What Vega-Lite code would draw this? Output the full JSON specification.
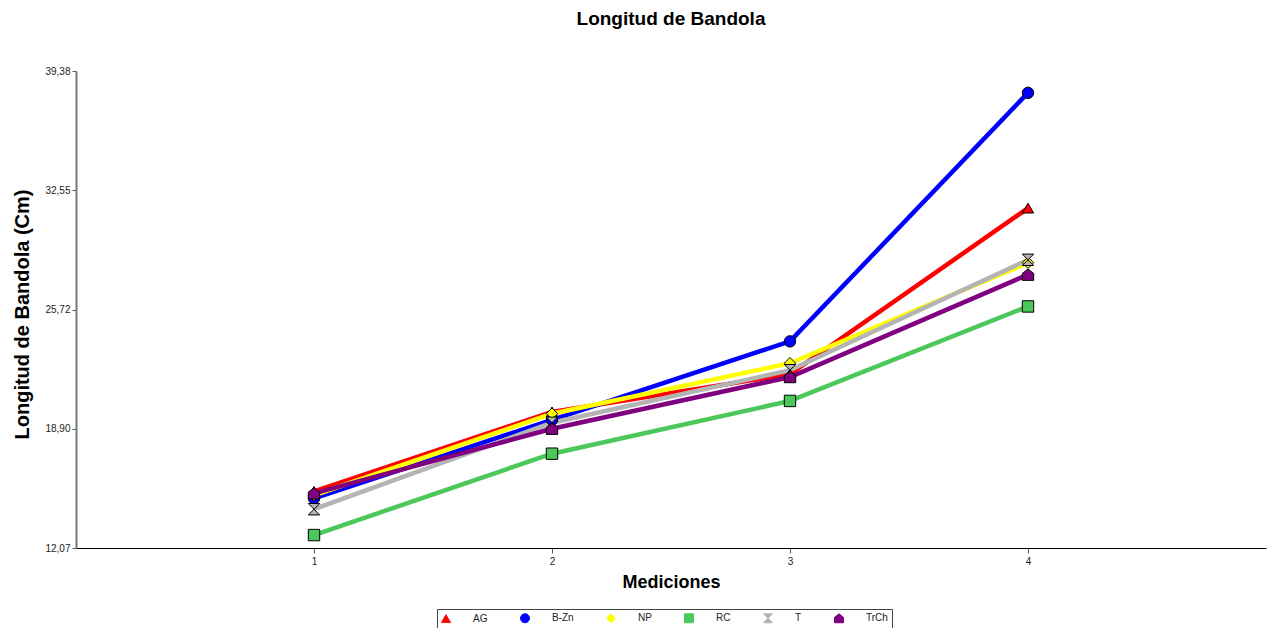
{
  "$schema": "https://vega.github.io/schema/vega-lite/v6.json",
  "autosize": {"type": "none"},
  "width": 1190,
  "height": 477,
  "padding": {"left": 76, "top": 71, "right": 5, "bottom": 80},
  "background": "white",
  "config": {"view": {"stroke": null}},
  "title": {"text": "Longitud de Bandola", "font": "Liberation Sans", "fontSize": 19, "fontWeight": "bold", "color": "black", "anchor": "middle", "offset": 37},
  "data": {"values": [
    {"serie": "AG", "medicion": 1, "longitud": 15.31},
    {"serie": "AG", "medicion": 2, "longitud": 19.86},
    {"serie": "AG", "medicion": 3, "longitud": 22.03},
    {"serie": "AG", "medicion": 4, "longitud": 31.53},
    {"serie": "B-Zn", "medicion": 1, "longitud": 14.91},
    {"serie": "B-Zn", "medicion": 2, "longitud": 19.41},
    {"serie": "B-Zn", "medicion": 3, "longitud": 23.9},
    {"serie": "B-Zn", "medicion": 4, "longitud": 38.13},
    {"serie": "NP", "medicion": 1, "longitud": 15.09},
    {"serie": "NP", "medicion": 2, "longitud": 19.76},
    {"serie": "NP", "medicion": 3, "longitud": 22.65},
    {"serie": "NP", "medicion": 4, "longitud": 28.4},
    {"serie": "RC", "medicion": 1, "longitud": 12.81},
    {"serie": "RC", "medicion": 2, "longitud": 17.47},
    {"serie": "RC", "medicion": 3, "longitud": 20.49},
    {"serie": "RC", "medicion": 4, "longitud": 25.9},
    {"serie": "T", "medicion": 1, "longitud": 14.29},
    {"serie": "T", "medicion": 2, "longitud": 19.24},
    {"serie": "T", "medicion": 3, "longitud": 22.25},
    {"serie": "T", "medicion": 4, "longitud": 28.57},
    {"serie": "TrCh", "medicion": 1, "longitud": 15.2},
    {"serie": "TrCh", "medicion": 2, "longitud": 18.9},
    {"serie": "TrCh", "medicion": 3, "longitud": 21.86},
    {"serie": "TrCh", "medicion": 4, "longitud": 27.72}
  ]},
  "encoding": {
    "x": {"field": "medicion", "type": "quantitative", "scale": {"domain": [0, 5], "nice": false, "zero": false},
      "axis": {"values": [1, 2, 3, 4], "title": "Mediciones", "grid": false, "domainColor": "black", "domainWidth": 1, "tickColor": "#555", "tickSize": 5, "labelFont": "Liberation Sans", "labelFontSize": 10, "labelColor": "#222", "labelPadding": 3, "titleFont": "Liberation Sans", "titleFontSize": 18, "titleFontWeight": "bold", "titleColor": "black", "titleY": 34, "titleBaseline": "middle"}},
    "y": {"field": "longitud", "type": "quantitative", "scale": {"domain": [12.07, 39.38], "nice": false, "zero": false},
      "axis": {"values": [12.07, 18.9, 25.72, 32.55, 39.38], "labelExpr": "replace(format(datum.value, '.2f'), '.', ',')", "title": "Longitud de Bandola (Cm)", "grid": false, "domainColor": "#777", "domainWidth": 2, "tickColor": "#555", "tickSize": 4, "labelFont": "Liberation Sans", "labelFontSize": 10, "labelColor": "#222", "labelPadding": 2, "titleFont": "Liberation Sans", "titleFontSize": 20, "titleFontWeight": "bold", "titleColor": "black", "titleX": -54, "titleY": 243, "titleAngle": -90, "titleAlign": "center", "titleBaseline": "middle"}},
    "color": {"field": "serie", "type": "nominal",
      "scale": {"domain": ["AG", "B-Zn", "NP", "RC", "T", "TrCh"], "range": ["#ff0000", "#0000ff", "#ffff00", "#4cc85a", "#b4b4b4", "#800080"]},
      "legend": {"title": null, "orient": "none", "legendX": 361, "legendY": 538, "direction": "horizontal", "strokeColor": "#444", "padding": 4, "labelFont": "Liberation Sans", "labelFontSize": 10, "labelColor": "#222", "labelOffset": 22, "columnPadding": 30, "symbolSize": 80,
        "encode": {"symbols": {"update": {"stroke": {"value": "black"}, "strokeWidth": {"value": 1}}}}}}
  },
  "layer": [
    {"mark": {"type": "line", "strokeWidth": 4.5}},
    {"mark": {"type": "point", "filled": true, "size": 130, "stroke": "black", "strokeWidth": 1, "opacity": 1},
      "encoding": {
        "shape": {"field": "serie", "type": "nominal",
          "scale": {"domain": ["AG", "B-Zn", "NP", "RC", "T", "TrCh"], "range": ["triangle-up", "circle", "diamond", "square", "M-1,-1L1,-1L-1,1L1,1Z", "M0,-1L1,-0.2L1,1L-1,1L-1,-0.2Z"]}}
      }}
  ]
}
